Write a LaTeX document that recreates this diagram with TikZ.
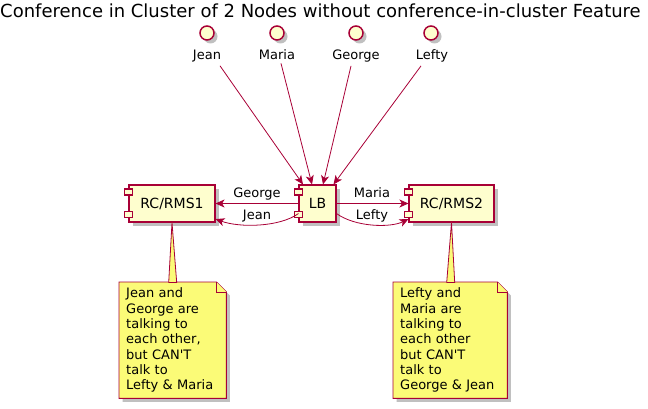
\documentclass[tikz,border=0pt]{standalone}
\usepackage{fontspec}
\setmainfont{DejaVu Sans}[Ligatures=TeXOff]
\usetikzlibrary{arrows.meta,shadows,calc}
\definecolor{puRed}{HTML}{A80036}
\definecolor{puComp}{HTML}{FEFECE}
\definecolor{puNote}{HTML}{FBFB77}
\tikzset{
  shad/.style={drop shadow={opacity=0.45,shadow xshift=3.5pt,shadow yshift=-3.5pt,fill=black!55}},
  comp/.style={draw=puRed,fill=puComp,line width=1.1pt,minimum height=37pt,inner sep=0pt,
     font=\fontsize{14}{16}\selectfont,shad},
  port/.style={draw=puRed,fill=puComp,line width=1.1pt},
  iface/.style={circle,draw=puRed,fill=puComp,line width=1.5pt,minimum size=14pt,inner sep=0pt,shad},
  ilabel/.style={font=\fontsize{13}{15}\selectfont,inner sep=0pt,anchor=base},
  elabel/.style={font=\fontsize{13}{15}\selectfont,inner sep=0pt,anchor=base},
  arr/.style={draw=puRed,line width=0.8pt,-{Stealth[length=9pt,width=8pt,inset=2.5pt]}},
  notebox/.style={inner xsep=7pt,inner ysep=0pt,align=left,
     font=\fontsize{13}{15.3}\selectfont,minimum height=116pt},
  noteshape/.style={draw=puRed,fill=puNote,line width=0.9pt},
  notecon/.style={draw=puRed,fill=puNote,line width=0.8pt},
}
\begin{document}
\begin{tikzpicture}[x=1pt,y=-1pt]
\useasboundingbox (0,0) rectangle (648,409);
% title
\node[font=\fontsize{18}{20}\selectfont,inner sep=0pt,anchor=base] (title) at (320.5,18) {Conference in Cluster of 2 Nodes without conference-in-cluster Feature};
% interfaces
\node[iface] (jean) at (207,33) {};
\node[iface] (maria) at (277,33) {};
\node[iface] (george) at (356,33) {};
\node[iface] (lefty) at (431,33) {};
\node[ilabel] (jeanl) at (207,60) {Jean};
\node[ilabel] (marial) at (277,60) {Maria};
\node[ilabel] (georgel) at (356,60) {George};
\node[ilabel] (leftyl) at (432,60) {Lefty};
% components
\node[comp,minimum width=86pt] (rc1) at (172,203.5) {RC/RMS1};
\node[comp,minimum width=37pt] (lb) at (317.5,203.5) {LB};
\node[comp,minimum width=85pt] (rc2) at (451.5,203.5) {RC/RMS2};
\foreach \n in {rc1,lb,rc2}{
  \draw[port] ($(\n.north west)+(-4,4.5)$) rectangle ++(8,6);
  \draw[port] ($(\n.south west)+(-4,-11)$) rectangle ++(8,6);
}
% interface -> LB
\draw[arr] ($(jeanl.south)+(13,3)$) -- ($(lb.north)+(-14.5,0)$);
\draw[arr] ($(marial.south)+(4,3)$) -- ($(lb.north)+(-5.5,0)$);
\draw[arr] ($(georgel.south)+(-5,3)$) -- ($(lb.north)+(5.5,0)$);
\draw[arr] ($(leftyl.south)+(-11,3)$) -- ($(lb.north)+(16,0)$);
% LB -> RCs
\draw[arr] (lb.west) -- (rc1.east);
\node[elabel] (lgeorge) at (257,197) {George};
\draw[arr] ($(lb.south west)+(0,-9)$) .. controls (280,227) and (240,228) .. ($(rc1.south east)+(0,-3.5)$);
\node[elabel] (ljean) at (257,219) {Jean};
\draw[arr] (lb.east) -- (rc2.west);
\node[elabel] (lmaria) at (372,197) {Maria};
\draw[arr] ($(lb.south east)+(0,-9)$) .. controls (355,227) and (390,228) .. ($(rc2.south west)+(0,-3.5)$);
\node[elabel] (llefty) at (372,219) {Lefty};
% notes (invisible placeholders for geometry)
\path node[notebox,text width=93pt,anchor=north west] (n1) at (119,282) {\phantom{Lefty \& Maria}}
      node[notebox,text width=100pt,anchor=north west] (n2) at (393,282) {\phantom{George \& Jean}};
\foreach \n in {n1,n2}{
  \path[noteshape,shad] (\n.north west) -- ($(\n.north east)+(-10,0)$) -- ($(\n.north east)+(0,10)$) -- (\n.south east) -- (\n.south west) -- cycle;
  \draw[noteshape] ($(\n.north east)+(-10,0)$) -- ($(\n.north east)+(-10,10)$) -- ($(\n.north east)+(0,10)$);
}
\path[notecon] (rc1.south) -- ($(n1.north)+(4,0.5)$) -- ($(n1.north)+(-4,0.5)$) -- cycle;
\path[notecon] (rc2.south) -- ($(n2.north)+(4.5,0.5)$) -- ($(n2.north)+(-3.5,0.5)$) -- cycle;
% note texts
\node[notebox,text width=93pt,anchor=north west] (n1t) at (n1.north west) {Jean and\\George are\\talking to\\each other,\\but CAN'T\\talk to\\Lefty \& Maria};
\node[notebox,text width=100pt,anchor=north west] (n2t) at (n2.north west) {Lefty and\\Maria are\\talking to\\each other\\but CAN'T\\talk to\\George \& Jean};
\end{tikzpicture}
\end{document}
